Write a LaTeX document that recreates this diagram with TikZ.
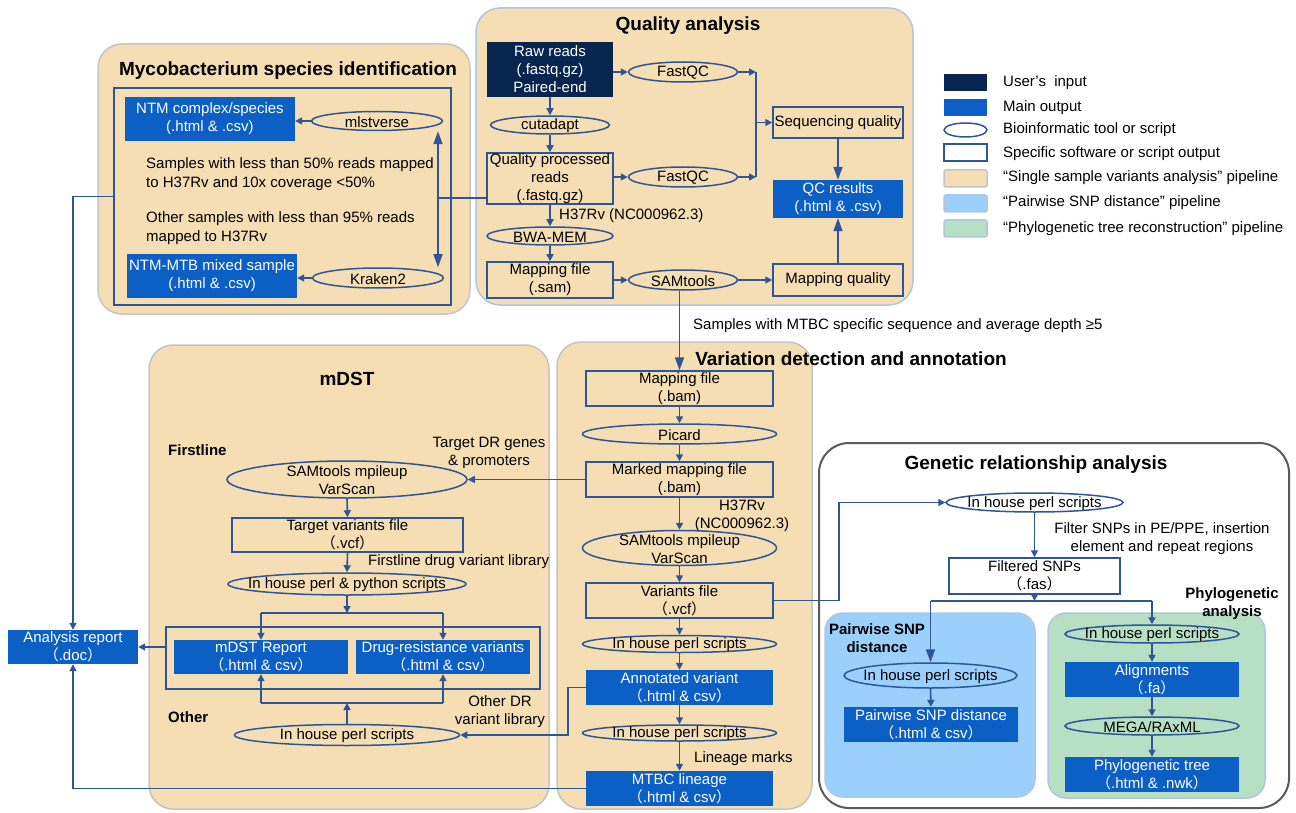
\documentclass[tikz,border=0pt]{standalone}
\usepackage{fontspec}
\setmainfont{Liberation Sans}
\newfontfamily\cjkfont{Noto Sans CJK SC}
\usetikzlibrary{shapes.geometric,arrows.meta,calc}
\definecolor{wheat}{HTML}{F5DEB3}
\definecolor{pborder}{HTML}{C4C4C4}
\definecolor{qborder}{HTML}{AFC6DE}
\definecolor{mainblue}{HTML}{0B5FC5}
\definecolor{navy}{HTML}{08254F}
\definecolor{lblue}{HTML}{2F5597}
\definecolor{pwblue}{HTML}{9BD0FC}
\definecolor{phgreen}{HTML}{B7DFC4}
\definecolor{grborder}{HTML}{5A5A5A}
\newcommand{\fwlp}{{\cjkfont （}}
\newcommand{\fwrp}{{\cjkfont ）}}
\newcommand{\toolnode}[5]{\node[tool,minimum width=#3,minimum height=#4] (#1) at #2 {};
  \node[lab] (#1t) at ($(#1)+(0,1)$) {#5};}
\begin{document}
\begin{tikzpicture}[x=1pt,y=-1pt,font=\fontsize{15}{18}\selectfont,
  panel/.style={fill=wheat,draw=pborder,line width=1.5pt,rounded corners=24pt},
  outbox/.style={fill=mainblue,text=white,align=center,inner sep=0pt},
  inbox/.style={fill=navy,text=white,align=center,inner sep=0pt},
  filebox/.style={draw=lblue,line width=1.5pt,align=center,inner sep=0pt},
  tool/.style={ellipse,draw=lblue,line width=1.5pt,inner sep=0pt},
  conn/.style={draw=lblue,line width=1.6pt},
  arr/.style={conn,-{Triangle[length=7pt,width=7pt]}},
  bigarr/.style={conn,-{Triangle[length=13pt,width=9pt]}},
  title/.style={font=\fontsize{19}{22}\selectfont\bfseries,inner sep=0pt},
  sub/.style={font=\fontsize{15}{18}\selectfont\bfseries,align=center,inner sep=0pt},
  lab/.style={align=center,inner sep=0pt},
  legtext/.style={anchor=west,inner sep=0pt}]
\useasboundingbox (0,0) rectangle (1296,813);

% ---------- panels ----------
\draw[panel] (98,44) rectangle (470,314);
\draw[panel,draw=qborder] (476,8) rectangle (913,305);
\draw[panel] (149,345) rectangle (549,809);
\draw[panel] (557,342) rectangle (812,809);
\draw[draw=grborder,line width=2pt,fill=white,rounded corners=30pt] (819,443) rectangle (1289,808);
\draw[panel,fill=pwblue,draw=qborder,rounded corners=18pt] (825,613) rectangle (1035,797);
\draw[panel,fill=phgreen,draw=qborder,rounded corners=18pt] (1048,613) rectangle (1265,798);

% ---------- titles ----------
\node[title] (t1) at (288,71) {Mycobacterium species identification};
\node[title] (t2) at (688,26) {Quality analysis};
\node[title] (t3) at (347,379) {mDST};
\node[title] (t4) at (851,359) {Variation detection and annotation};
\node[title] (t5) at (1036,465) {Genetic relationship analysis};

% ---------- species identification ----------
\node[filebox,minimum width=337,minimum height=217] (specbox) at (282.5,196.5) {};
\node[outbox,minimum width=170,minimum height=44] (ntm) at (210,119) {NTM complex/species\\(.html \& .csv)};
\toolnode{mlst}{(377,121)}{131}{19}{mlstverse}
\node[outbox,minimum width=170,minimum height=44] (mixed) at (212,276) {NTM-MTB mixed sample\\(.html \& .csv)};
\toolnode{kraken}{(378,278)}{131}{20}{Kraken2}
\node[anchor=west,align=left,inner sep=0pt,font=\fontsize{15}{19}\selectfont] (s1) at (146,174.5) {Samples with less than 50\% reads mapped\\to H37Rv and 10x coverage <50\%};
\node[anchor=west,align=left,inner sep=0pt,font=\fontsize{15}{19}\selectfont] (s2) at (146,228) {Other samples with less than 95\% reads\\mapped to H37Rv};

% ---------- quality analysis ----------
\node[inbox,minimum width=126,minimum height=55] (raw) at (550,69.5) {Raw reads\\(.fastq.gz)\\Paired-end};
\toolnode{fq1}{(683,72)}{109}{20}{FastQC}
\toolnode{cut}{(550,125)}{119}{18}{cutadapt}
\node[filebox,minimum width=126,minimum height=51] (qpr) at (550,178.5) {Quality processed\\reads\\(.fastq.gz)};
\toolnode{fq2}{(683,177)}{109}{20}{FastQC}
\node[filebox,minimum width=130,minimum height=31] (sq) at (838,122.5) {Sequencing quality};
\node[outbox,minimum width=130,minimum height=38] (qc) at (838,199) {QC results\\(.html \& .csv)};
\toolnode{bwa}{(550,236)}{126}{18}{BWA-MEM}
\node[lab,anchor=west] (h37a) at (559,216) {H37Rv (NC000962.3)};
\node[filebox,minimum width=126,minimum height=36] (sam) at (550,280) {Mapping file\\(.sam)};
\toolnode{samt}{(683,280)}{109}{20}{SAMtools}
\node[filebox,minimum width=130,minimum height=32] (mq) at (838,280) {Mapping quality};
\node[lab,anchor=west] (mtbclab) at (693,326) {Samples with MTBC specific sequence and average depth ≥5};

% ---------- legend ----------
\node[inbox,minimum width=43,minimum height=17] (lg1) at (965.5,82.5) {};
\node[legtext] (lg1t) at (1003,82.5) {User’s\ \ input};
\node[outbox,minimum width=43,minimum height=17] (lg2) at (965.5,107.5) {};
\node[legtext] (lg2t) at (1003,107.5) {Main output};
\node[tool,minimum width=43,minimum height=14] (lg3) at (965.5,130) {};
\node[legtext] (lg3t) at (1003,130) {Bioinformatic tool or script};
\node[filebox,fill=white,minimum width=43,minimum height=17] (lg4) at (965.5,152.5) {};
\node[legtext] (lg4t) at (1003,153.5) {Specific software or script output};
\node[fill=wheat,draw=pborder,line width=1.5pt,rounded corners=2pt,minimum width=43,minimum height=17,inner sep=0pt] (lg5) at (965.5,178.5) {};
\node[legtext] (lg5t) at (1003,178) {“Single sample variants analysis” pipeline};
\node[fill=pwblue,draw=qborder,line width=1.5pt,rounded corners=2pt,minimum width=43,minimum height=17,inner sep=0pt] (lg6) at (965.5,203.5) {};
\node[legtext] (lg6t) at (1003,203) {“Pairwise SNP distance” pipeline};
\node[fill=phgreen,draw=qborder,line width=1.5pt,rounded corners=2pt,minimum width=43,minimum height=17,inner sep=0pt] (lg7) at (965.5,228.5) {};
\node[legtext] (lg7t) at (1003,228.5) {“Phylogenetic tree reconstruction” pipeline};

% ---------- variation detection ----------
\node[filebox,minimum width=187,minimum height=35] (vmap) at (679.5,388.5) {Mapping file\\(.bam)};
\toolnode{picard}{(679.5,434)}{194}{20}{Picard}
\node[filebox,minimum width=187,minimum height=35] (marked) at (679.5,479.5) {Marked mapping file\\(.bam)};
\node[lab] (h37b) at (742,516) {H37Rv\\(NC000962.3)};
\toolnode{vsam}{(679.5,548)}{194}{35}{SAMtools mpileup\\VarScan}
\node[filebox,minimum width=187,minimum height=35] (vcf) at (679.5,600.5) {Variants file\\\fwlp.vcf\fwrp};
\toolnode{vperla}{(679.5,644)}{194}{17}{In house perl scripts}
\node[outbox,minimum width=187,minimum height=35] (annot) at (679.5,687.5) {Annotated variant\\\fwlp.html \& csv\fwrp};
\toolnode{vperlb}{(679.5,733)}{194}{16}{In house perl scripts}
\node[lab,anchor=west] (linlab) at (694,759) {Lineage marks};
\node[outbox,minimum width=187,minimum height=35] (mtbc) at (679.5,788.5) {MTBC lineage\\\fwlp.html \& csv\fwrp};

% ---------- mDST ----------
\node[sub,anchor=west] (first) at (168,450) {Firstline};
\toolnode{mvs}{(347,479.5)}{240}{37}{SAMtools mpileup\\VarScan}
\node[lab] (drlab) at (489,453) {Target DR genes\\\& promoters};
\node[filebox,minimum width=231,minimum height=34] (tvf) at (347.5,535) {Target variants file\\\fwlp.vcf\fwrp};
\node[lab,anchor=west] (fllab) at (368,562) {Firstline drug variant library};
\toolnode{mperl}{(347,584)}{238}{22}{In house perl \& python scripts}
\node[filebox,minimum width=374,minimum height=62] (rep) at (353,658) {};
\node[outbox,minimum width=174,minimum height=34] (mrep) at (261,657) {mDST Report\\\fwlp.html \& csv\fwrp};
\node[outbox,minimum width=174,minimum height=34] (dr) at (443,657) {Drug-resistance variants\\\fwlp.html \& csv\fwrp};
\node[sub,anchor=west] (other) at (168,717) {Other};
\node[lab] (odrlab) at (500,712) {Other DR\\variant library};
\toolnode{operl}{(347,735)}{225}{21}{In house perl scripts}

% ---------- report ----------
\node[outbox,minimum width=130,minimum height=34] (report) at (73,647) {Analysis report\\\fwlp.doc\fwrp};

% ---------- genetic relationship ----------
\toolnode{gperl}{(1034.5,502.5)}{177}{19}{In house perl scripts}
\node[lab] (filtlab) at (1162,539) {Filter SNPs in PE/PPE, insertion\\element and repeat regions};
\node[filebox,fill=white,minimum width=171,minimum height=36] (fsnp) at (1034.5,576) {Filtered SNPs\\\fwlp.fas\fwrp};
\node[sub] (pwtitle) at (877,638) {Pairwise SNP\\distance};
\toolnode{pwperl}{(930.5,675.5)}{173}{25}{In house perl scripts}
\node[outbox,minimum width=174,minimum height=35] (pwdist) at (931,724.5) {Pairwise SNP distance\\\fwlp.html \& csv\fwrp};
\node[sub] (phtitle) at (1232,604) {Phylogenetic\\analysis};
\toolnode{phperl}{(1152,634)}{174}{18}{In house perl scripts}
\node[outbox,minimum width=174,minimum height=35] (align) at (1152,679.5) {Alignments\\\fwlp.fa\fwrp};
\toolnode{mega}{(1152,726)}{174}{18}{MEGA/RAxML}
\node[outbox,minimum width=174,minimum height=35] (tree) at (1152,774.5) {Phylogenetic tree\\\fwlp.html \& .nwk\fwrp};

% ---------- connectors: species ----------
\draw[arr] (mlst.west) -- (mlst.west -| ntm.east);
\draw[arr] (kraken.west) -- (kraken.west -| mixed.east);
\coordinate (sj) at (438,198);
\draw[conn] (qpr.west |- sj) -- (sj);
\draw[bigarr] (sj) -- (sj |- mlst.south);
\draw[bigarr] (sj) -- (sj |- kraken.north);

% ---------- connectors: quality ----------
\draw[arr] (raw.south) -- (cut.north);
\draw[arr] (cut.south) -- (qpr.north);
\draw[arr] (qpr.south) -- (bwa.north);
\draw[arr] (bwa.south) -- (sam.north);
\draw[arr] (raw.east |- fq1) -- (fq1.west);
\draw[arr] (qpr.east |- fq2) -- (fq2.west);
\coordinate (qj) at (756,122.5);
\draw[arr] (fq1.east) -- (qj |- fq1);
\draw[arr] (fq2.east) -- (qj |- fq2);
\draw[conn] (qj |- fq1) -- (qj |- fq2);
\draw[arr] (qj) -- (sq.west);
\draw[bigarr] (sq.south) -- (qc.north);
\draw[bigarr] (mq.north) -- (qc.south);
\draw[arr] (sam.east) -- (samt.west);
\draw[arr] (samt.east) -- (mq.west);
\draw[bigarr] (vmap.north |- samt.south) -- (vmap.north);

% ---------- connectors: variation detection ----------
\draw[arr] (vmap.south) -- (picard.north);
\draw[arr] (picard.south) -- (marked.north);
\draw[arr] (marked.south) -- (vsam.north);
\draw[arr] (vsam.south) -- (vcf.north);
\draw[arr] (vcf.south) -- (vperla.north);
\draw[arr] (vperla.south) -- (annot.north);
\draw[arr] (annot.south) -- (vperlb.north);
\draw[arr] (vperlb.south) -- (mtbc.north);

% ---------- connectors: mDST ----------
\draw[arr] (marked.west) -- (mvs.east);
\draw[arr] (mvs.south) -- (tvf.north);
\draw[arr] (tvf.south) -- (mperl.north);
\coordinate (mja) at (347,613);
\draw[arr] (mperl.south) -- (mja);
\draw[conn] (mja -| mrep) -- (mja -| dr);
\draw[arr] (mja -| mrep) -- (mrep.north);
\draw[arr] (mja -| dr) -- (dr.north);
\coordinate (mjb) at (347,703);
\draw[arr] (operl.north) -- (mjb);
\draw[conn] (mjb -| mrep) -- (mjb -| dr);
\draw[arr] (mjb -| mrep) -- (mrep.south);
\draw[arr] (mjb -| dr) -- (dr.south);
\draw[arr] (annot.west) -- ++(-18,0) |- (operl.east);

% ---------- connectors: report ----------
\draw[arr] (specbox.west) -| (report.north);
\draw[arr] (rep.west |- report.east) -- (report.east);
\draw[arr] (mtbc.west) -| (report.south);

% ---------- connectors: genetic ----------
\draw[arr] (vcf.east) -- (839,600.5) |- (gperl.west);
\draw[arr] (gperl.south) -- (fsnp.north);
\coordinate (gj) at (1034.5,601);
\draw[arr] (fsnp.south) -- (gj);
\draw[conn] (gj -| pwperl) -- (gj -| phperl);
\draw[bigarr] (gj -| pwperl) -- (pwperl.north);
\draw[arr] (gj -| phperl) -- (phperl.north);
\draw[arr] (pwperl.south) -- (pwdist.north);
\draw[arr] (phperl.south) -- (align.north);
\draw[arr] (align.south) -- (mega.north);
\draw[arr] (mega.south) -- (tree.north);
\end{tikzpicture}
\end{document}
